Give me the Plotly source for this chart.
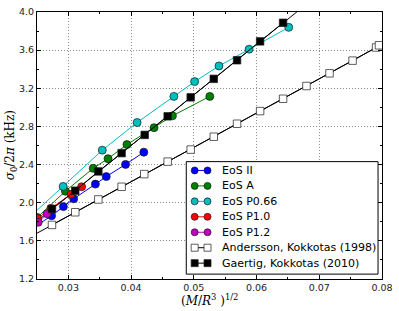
import numpy as np
import plotly.graph_objects as go

# EoS II
eos2_x = [0.0240, 0.02733, 0.02921, 0.03085, 0.03431, 0.03604, 0.03912, 0.04203]
eos2_y = [1.720, 1.864, 1.959, 2.041, 2.195, 2.274, 2.402, 2.530]
# EoS A
eosA_x = [0.02503, 0.02953, 0.03396, 0.03632, 0.03934, 0.04366, 0.04659, 0.05255]
eosA_y = [1.846, 2.121, 2.361, 2.462, 2.610, 2.787, 2.911, 3.115]
# EoS P0.66
p066_x = [0.0240, 0.02917, 0.03541, 0.04096, 0.04682, 0.05013, 0.05401, 0.05881, 0.06513]
p066_y = [1.860, 2.171, 2.551, 2.841, 3.115, 3.270, 3.434, 3.610, 3.839]
# EoS P1.0
p10_x = [0.0240, 0.0251, 0.0272, 0.03042, 0.03211]
p10_y = [1.780, 1.835, 1.940, 2.089, 2.167]
# EoS P1.2
p12_x = [0.0240, 0.02519, 0.02660]
p12_y = [1.740, 1.795, 1.884]
# Andersson, Kokkotas (1998)
ak_x = [0.02739, 0.03110, 0.03478, 0.03849, 0.04210, 0.04583, 0.04950, 0.05318,
        0.05689, 0.06057, 0.06423, 0.06796, 0.07163, 0.07531, 0.07906, 0.07952]
ak_y = [1.767, 1.900, 2.034, 2.167, 2.300, 2.431, 2.557, 2.692,
        2.828, 2.961, 3.090, 3.224, 3.357, 3.490, 3.628, 3.651]
# Gaertig, Kokkotas (2010)
gk_x = [0.02739, 0.03110, 0.03478, 0.03849, 0.04217, 0.04583, 0.04950, 0.05318,
        0.05689, 0.06057, 0.06423]
gk_y = [1.935, 2.126, 2.328, 2.520, 2.711, 2.906, 3.105, 3.299, 3.494, 3.692, 3.887]

x_ticks = [0.03, 0.04, 0.05, 0.06, 0.07, 0.08]
y_ticks = [1.2, 1.6, 2.0, 2.4, 2.8, 3.2, 3.6, 4.0]

# (label, x, y, colour, symbol, fill)
series = [
    ("EoS II", eos2_x, eos2_y, "#0000ff", "circle", "#0000ff"),
    ("EoS A", eosA_x, eosA_y, "#007f00", "circle", "#007f00"),
    ("EoS P0.66", p066_x, p066_y, "#00bfbf", "circle", "#00bfbf"),
    ("EoS P1.0", p10_x, p10_y, "#ff0000", "circle", "#ff0000"),
    ("EoS P1.2", p12_x, p12_y, "#bf00bf", "circle", "#bf00bf"),
    ("Andersson, Kokkotas (1998)", ak_x, ak_y, "black", "square", "white"),
    ("Gaertig, Kokkotas (2010)", gk_x, gk_y, "black", "square", "black"),
]

W, H = 399, 311
L, R, T, B = 37, 13, 6, 32
PW, PH = W - L - R, H - T - B


def px(xp):
    return (xp - L) / PW


def py(yp):
    return (H - B - yp) / PH


fig = go.Figure()

# fit lines extended across the axes
xfit = np.array([0.02, 0.085])
for xs, ys in [(ak_x, ak_y), (gk_x, gk_y)]:
    c = np.polyfit(xs, ys, 1)
    fig.add_trace(go.Scatter(x=xfit, y=np.polyval(c, xfit), mode="lines",
                             line=dict(color="black", width=1), showlegend=False,
                             hoverinfo="skip"))

for name, xs, ys, col, sym, fill in series:
    fig.add_trace(go.Scatter(
        x=xs, y=ys, name=name, mode="lines+markers", showlegend=False,
        line=dict(color=col, width=1),
        marker=dict(symbol=sym, size=8 if sym == "circle" else 7.5, color=fill,
                    line=dict(color="#1a1a1a", width=0.7))))

axis_common = dict(
    showline=True, linecolor="black", linewidth=1, mirror="allticks",
    ticks="inside", ticklen=4, tickcolor="black",
    showgrid=True, gridcolor="#8c8c8c", griddash="1px,2px", gridwidth=0.8,
    zeroline=False,
    tickfont=dict(family="DejaVu Sans", size=9.5, color="#222222"),
)

fig.update_xaxes(
    range=[0.025, 0.08], tickvals=x_ticks, ticktext=[f"{v:.2f}" for v in x_ticks],
    minor=dict(ticks="inside", ticklen=2, dtick=0.005, tick0=0, tickcolor="black",
               showgrid=False),
    **axis_common)
fig.update_yaxes(
    range=[1.2, 4.0], tickvals=y_ticks, ticktext=[f"{v:.1f}" for v in y_ticks],
    minor=dict(ticks="inside", ticklen=2, dtick=0.2, tick0=0, tickcolor="black",
               showgrid=False),
    **axis_common)

shapes = []
annotations = []

# axis titles
annotations.append(dict(
    text="(<i>M</i>/<i>R</i><sup>3</sup> )<sup>1/2</sup>", xref="paper", yref="paper",
    x=0.5, y=py(300), xanchor="center", yanchor="middle", showarrow=False,
    font=dict(family="DejaVu Serif", size=12, color="black")))
annotations.append(dict(
    text="<i>σ</i><sub>0</sub>/2<i>π</i> (kHz)", xref="paper", yref="paper",
    x=px(11), y=py(142), xanchor="center", yanchor="middle", textangle=-90,
    showarrow=False, font=dict(family="DejaVu Serif", size=12, color="black")))

# manual legend (matplotlib style: two markers joined by a line)
shapes.append(dict(type="rect", xref="paper", yref="paper",
                   x0=px(188), x1=px(382), y0=py(274), y1=py(159),
                   line=dict(color="black", width=1), fillcolor="white", layer="above"))
for i, (name, xs, ys, col, sym, fill) in enumerate(series):
    yc = 168 + i * 15.8
    shapes.append(dict(type="line", xref="paper", yref="paper",
                       x0=px(196.5), x1=px(209.5), y0=py(yc), y1=py(yc),
                       line=dict(color=col, width=1), layer="above"))
    for xm in (196.5, 209.5):
        shapes.append(dict(type="circle" if sym == "circle" else "rect",
                           xref="paper", yref="paper",
                           xsizemode="pixel", ysizemode="pixel",
                           xanchor=px(xm), yanchor=py(yc),
                           x0=-3.5, x1=3.5, y0=-3.5, y1=3.5,
                           fillcolor=fill, line=dict(color="#1a1a1a", width=0.7),
                           layer="above"))
    annotations.append(dict(text=name, xref="paper", yref="paper",
                            x=px(222), y=py(yc), xanchor="left", yanchor="middle",
                            showarrow=False,
                            font=dict(family="DejaVu Sans", size=11, color="black")))

fig.update_layout(
    width=W, height=H,
    margin=dict(l=L, r=R, t=T, b=B),
    paper_bgcolor="white", plot_bgcolor="white",
    showlegend=False,
    shapes=shapes, annotations=annotations,
)

fig.write_html(
    "out.html",
    config={"displayModeBar": False},
    post_script="document.body.style.margin='0';document.body.style.overflow='hidden';",
)
